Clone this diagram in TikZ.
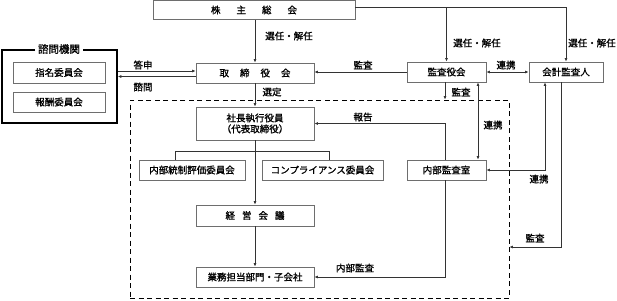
\documentclass[tikz,border=0pt]{standalone}
\usepackage{fontspec}
\setmainfont{Noto Sans CJK JP}[FakeBold=1.2]
\usepackage{xcolor}
\usepackage{tikz}
\usetikzlibrary{arrows.meta,calc}

\definecolor{boxgray}{HTML}{6E6E6E}
\definecolor{linegray}{HTML}{333333}
\tikzset{
  box/.style={draw=boxgray, line width=0.8pt, inner sep=0pt, minimum height=20pt, font=\fontsize{9.5}{11}\selectfont},
  lbl/.style={inner sep=0pt, font=\fontsize{9.5}{11}\selectfont},
  arr/.style={draw=linegray, line width=0.8pt, -{Latex[length=3.5pt,width=3pt]}},
  arrs/.style={draw=linegray, line width=0.8pt, {Latex[length=3.5pt,width=3pt]}-{Latex[length=3.5pt,width=3pt]}},
  ln/.style={draw=linegray, line width=0.8pt}
}

\begin{document}
\begin{tikzpicture}[x=1pt, y=-1pt]
\useasboundingbox (0,0) rectangle (617,300);

% frame of the executive side
\node[draw, dashed, dash pattern=on 5pt off 3.5pt, line width=0.8pt, minimum width=379pt, minimum height=198pt, inner sep=0pt] (exec) at (319.5,199) {};

% boxes
\node[box, minimum width=202pt, minimum height=19pt] (soukai) at (254,10) {株\hspace{16pt}主\hspace{16pt}総\hspace{16pt}会};
\node[box, minimum width=118pt] (torishimari) at (255,73) {取\hspace{11pt}締\hspace{11pt}役\hspace{11pt}会};
\node[box, minimum width=118pt, minimum height=33pt, align=center] (shacho) at (255,123.5) {社長執行役員\\（代表取締役）};
\node[box, minimum width=106pt] (naibutousei) at (192,170) {内部統制評価委員会};
\node[box, minimum width=121pt] (compliance) at (322.5,170) {コンプライアンス委員会};
\node[box, minimum width=118pt, minimum height=21pt] (keiei) at (255,215.5) {経\hspace{7pt}営\hspace{7pt}会\hspace{7pt}議};
\node[box, minimum width=118pt] (gyomu) at (255,277) {業務担当部門・子会社};
\node[box, minimum width=79pt] (kansayaku) at (446.5,72) {監査役会};
\node[box, minimum width=74pt] (kaikei) at (566,72) {会計監査人};
\node[box, minimum width=79pt] (naibukansa) at (446.5,170) {内部監査室};

% advisory bodies
\node[draw, line width=1.6pt, minimum width=115pt, minimum height=73pt, inner sep=0pt] (shimon) at (59.5,86.5) {};
\node[fill=white, inner sep=3pt, font=\fontsize{10.5}{12}\selectfont] (shimontitle) at (59,49) {諮問機関};
\node[box, minimum width=92pt, minimum height=21pt] (shimei) at (59,72.5) {指名委員会};
\node[box, minimum width=92pt] (hoshu) at (59,102) {報酬委員会};

% connectors
\coordinate (top) at ($(soukai.east)+(0,-3)$);
\coordinate (ts) at ($(torishimari.west)+(0,-2)$);
\coordinate (tw) at ($(torishimari.west)+(0,3.5)$);
\coordinate (br) at ($(shacho.south)+(0,11)$);
\coordinate (kk) at ($(exec.east)+(0,48)$);

\draw[arr] (soukai.south -| torishimari.north) -- (torishimari.north);
\draw[arr] (top) -| (kaikei.north);
\draw[arr] (kansayaku.north |- top) -- (kansayaku.north);
\draw[arr] (shimon.east |- ts) -- (ts);
\draw[arr] (tw) -- (shimon.east |- tw);
\draw[arr] (kansayaku.west) -- (kansayaku.west -| torishimari.east);
\draw[arrs] (kansayaku.east) -- (kaikei.west);
\draw[arr] (torishimari.south) -- (shacho.north);
\draw[arr] ([xshift=-1.5pt]kansayaku.south) -- ([xshift=-1.5pt]kansayaku.south |- exec.north);
\draw[arr] ([xshift=-1.5pt]naibukansa.north) |- (shacho.east);
\draw[arrs] ([xshift=31.5pt]kansayaku.south) -- ([xshift=31.5pt]naibukansa.north);
\draw[arrs] (naibukansa.east) -| ([xshift=-21pt]kaikei.south);
\draw[arr] ([xshift=-5pt]kaikei.south) |- (kk);
\draw[arr] ([xshift=-1.5pt]naibukansa.south) |- (gyomu.east);
\draw[arr] (shacho.south) -- (keiei.north);
\draw[ln] ([xshift=-17pt]naibutousei.north) |- (br) -| ([xshift=6.5pt]compliance.north);
\draw[arr] (keiei.south) -- (gyomu.north);

% labels
\node[lbl] (l1) at (289,36) {選任・解任};
\node[lbl] (l2) at (477,43) {選任・解任};
\node[lbl] (l3) at (592,43) {選任・解任};
\node[lbl] (l4) at (143,65) {答申};
\node[lbl] (l5) at (143,87) {諮問};
\node[lbl] (l6) at (272,92) {選定};
\node[lbl] (l7) at (363,65) {監査};
\node[lbl] (l8) at (506,65) {連携};
\node[lbl] (l9) at (461,92) {監査};
\node[lbl] (l10) at (363,117) {報告};
\node[lbl] (l11) at (493,125) {連携};
\node[lbl] (l12) at (539,179) {連携};
\node[lbl] (l13) at (535,238) {監査};
\node[lbl] (l14) at (355,268) {内部監査};
\end{tikzpicture}
\end{document}
